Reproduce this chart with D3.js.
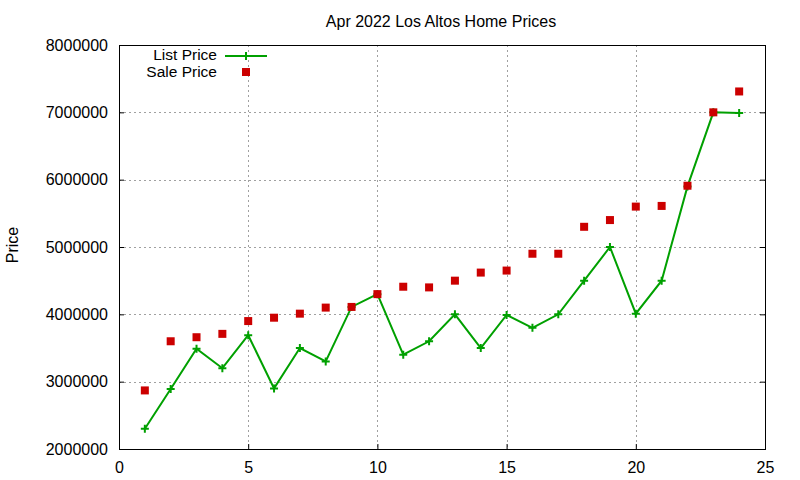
<!DOCTYPE html>
<html>
<head>
<meta charset="utf-8">
<script src="https://cdn.jsdelivr.net/npm/d3@7"></script>
<style>
  body { margin: 0; background: #fff; }
  svg { display: block; font-family: "Liberation Sans", Arial, sans-serif; }
</style>
</head>
<body>
<div id="chart"></div>
<script>
const days = [1, 2, 3, 4, 5, 6, 7, 8, 9, 10, 11, 12, 13, 14, 15, 16, 17, 18, 19, 20, 21, 22, 23, 24];
const listPrice = [2300000, 2890000, 3490000, 3200000, 3690000, 2900000, 3500000, 3300000, 4110000, 4300000,
    3400000, 3600000, 4000000, 3500000, 3990000, 3800000, 4000000, 4500000, 5000000, 4010000,
    4500000, 5900000, 7000000, 6990000];
const salePrice = [2870000, 3600000, 3660000, 3710000, 3900000, 3950000, 4010000, 4100000, 4110000, 4300000,
    4410000, 4400000, 4500000, 4620000, 4650000, 4900000, 4900000, 5300000, 5400000, 5600000,
    5610000, 5910000, 7000000, 7310000];
const xTicks = [0, 5, 10, 15, 20, 25];
const yTicks = [2000000, 3000000, 4000000, 5000000, 6000000, 7000000, 8000000];

const W = 800, H = 480;
const plotL = 119, plotR = 765, plotT = 45, plotB = 449;
const green = "#00a000", red = "#cc0000";

const svg = d3.select("#chart").append("svg")
    .attr("width", W)
    .attr("height", H);

const x = d3.scaleLinear().domain([0, 25]).range([plotL, plotR]);
const y = d3.scaleLinear().domain([2000000, 8000000]).range([plotB, plotT]);

// grid
const grid = svg.append("g")
    .attr("stroke", "#a0a0a0")
    .attr("stroke-width", 1)
    .attr("stroke-dasharray", "2,3")
    .attr("shape-rendering", "crispEdges");
xTicks.slice(1, -1).forEach(t => {
    grid.append("line")
        .attr("x1", x(t) + 0.5).attr("x2", x(t) + 0.5)
        .attr("y1", plotT).attr("y2", plotB);
});
yTicks.slice(1, -1).forEach(t => {
    grid.append("line")
        .attr("x1", plotL).attr("x2", plotR)
        .attr("y1", y(t) + 0.5).attr("y2", y(t) + 0.5);
});

// axes with inward ticks
const axisStyle = g => {
    g.select(".domain").remove();
    g.selectAll(".tick line").attr("stroke", "#000");
    g.selectAll(".tick text")
        .attr("fill", "#000")
        .style("font-size", "16px")
        .style("font-family", "'Liberation Sans', Arial, sans-serif");
};

svg.append("g")
    .attr("transform", `translate(0,${plotB})`)
    .call(d3.axisBottom(x).tickValues(xTicks).tickSize(-5).tickPadding(13))
    .call(axisStyle);

svg.append("g")
    .attr("transform", `translate(${plotL},0)`)
    .call(d3.axisLeft(y).tickValues(yTicks).tickFormat(d3.format("d")).tickSize(-5).tickPadding(11))
    .call(axisStyle);

svg.append("g")
    .attr("transform", `translate(${plotR},0)`)
    .call(d3.axisRight(y).tickValues(yTicks).tickSize(-5).tickFormat(""))
    .call(axisStyle);

svg.append("rect")
    .attr("x", plotL + 0.5).attr("y", plotT + 0.5)
    .attr("width", plotR - plotL).attr("height", plotB - plotT)
    .attr("fill", "none")
    .attr("stroke", "#000")
    .attr("stroke-width", 1)
    .attr("shape-rendering", "crispEdges");

// title and label
svg.append("text")
    .attr("x", 441).attr("y", 27)
    .attr("text-anchor", "middle")
    .style("font-size", "16px")
    .text("Apr 2022 Los Altos Home Prices");

svg.append("text")
    .attr("transform", "translate(18,245) rotate(-90)")
    .attr("text-anchor", "middle")
    .style("font-size", "16px")
    .text("Price");

// list price line
const line = d3.line()
    .x((d, i) => x(days[i]))
    .y(d => y(d));

svg.append("path")
    .datum(listPrice)
    .attr("d", line)
    .attr("fill", "none")
    .attr("stroke", green)
    .attr("stroke-width", 2);

function drawPlus(g, cx, cy) {
    g.append("path")
        .attr("d", `M${cx - 4},${cy}H${cx + 4}M${cx},${cy - 4}V${cy + 4}`)
        .attr("stroke", green)
        .attr("stroke-width", 2)
        .attr("fill", "none");
}
const plusG = svg.append("g");
listPrice.forEach((v, i) => drawPlus(plusG, x(days[i]), y(v)));

// sale price squares
svg.append("g")
    .selectAll("rect")
    .data(salePrice)
    .join("rect")
    .attr("x", (d, i) => x(days[i]) - 4)
    .attr("y", d => y(d) - 4)
    .attr("width", 8)
    .attr("height", 8)
    .attr("fill", red);

// legend
const legend = svg.append("g");
legend.append("text")
    .attr("x", 217).attr("y", 60)
    .attr("text-anchor", "end")
    .style("font-size", "15.5px")
    .text("List Price");
legend.append("line")
    .attr("x1", 225).attr("x2", 267)
    .attr("y1", 56).attr("y2", 56)
    .attr("stroke", green)
    .attr("stroke-width", 2);
drawPlus(legend, 246, 56);
legend.append("text")
    .attr("x", 217).attr("y", 77)
    .attr("text-anchor", "end")
    .style("font-size", "15.5px")
    .text("Sale Price");
legend.append("rect")
    .attr("x", 242).attr("y", 68)
    .attr("width", 8).attr("height", 8)
    .attr("fill", red);
</script>
</body>
</html>
